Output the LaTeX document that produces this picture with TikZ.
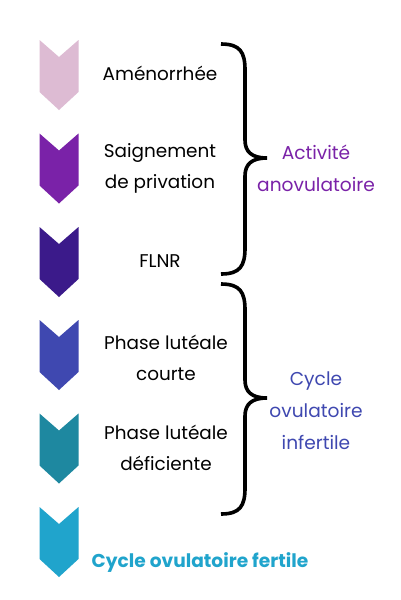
\documentclass[tikz,border=0pt]{standalone}
\usepackage{fontspec}
\setmainfont{Poppins}
\definecolor{c1}{HTML}{DDBBD3}
\definecolor{c2}{HTML}{7A22A8}
\definecolor{c3}{HTML}{3B1A8A}
\definecolor{c4}{HTML}{3F48B0}
\definecolor{c5}{HTML}{1E88A0}
\definecolor{c6}{HTML}{20A4CC}
\tikzset{
  lbl/.style={align=center, font=\fontsize{18.4}{31}\selectfont, text=black, inner sep=0pt},
  grp/.style={align=center, font=\fontsize{18.6}{32}\selectfont, inner sep=0pt},
  brace/.style={line width=3.6pt, draw=black}
}
\newcommand\chevshape[3]{\fill[#3] (#1,#2) -- ++(19.5,17) -- ++(19.5,-17) -- ++(0,52) -- ++(-19.5,18) -- ++(-19.5,-18) -- cycle;}
\begin{document}
\begin{tikzpicture}[x=1pt,y=-1pt]
\useasboundingbox[fill=white] (0,0) rectangle (400,600);
\chevshape{39.5}{40}{c1}
\chevshape{39.5}{133.5}{c2}
\chevshape{39.5}{227}{c3}
\chevshape{39.5}{320}{c4}
\chevshape{39.5}{413.5}{c5}
\chevshape{39.5}{507}{c6}
\node[lbl] (t1) at (160,73) {Aménorrhée};
\node[lbl] (t2) at (160,168.5) {Saignement\\de privation};
\node[lbl] (t3) at (160,261) {FLNR};
\node[lbl] (t4) at (166,357.5) {Phase lutéale\\courte};
\node[lbl] (t5) at (166,447.5) {Phase lutéale\\déficiente};
\node[grp, text=c2] (g1) at (316,168.5) {Activité\\anovulatoire};
\node[grp, text=c4] (g2) at (316,410.5) {Cycle\\ovulatoire\\infertile};
\node[inner sep=0pt, text=c6, font=\fontsize{18.6}{20}\selectfont\bfseries] (g3) at (200,563) {Cycle ovulatoire fertile};
\draw[brace] (221,44) .. controls (240,44) and (245,52) .. (245,70) -- (245,140) .. controls (245,152) and (252,158) .. (267,158) .. controls (252,158) and (245,164) .. (245,176) -- (245,248) .. controls (245,266) and (240,274) .. (221,274);
\draw[brace] (221,284) .. controls (240,284) and (245,292) .. (245,310) -- (245,380) .. controls (245,392) and (252,398) .. (267,398) .. controls (252,398) and (245,404) .. (245,416) -- (245,488) .. controls (245,506) and (240,514) .. (221,514);
\end{tikzpicture}
\end{document}
